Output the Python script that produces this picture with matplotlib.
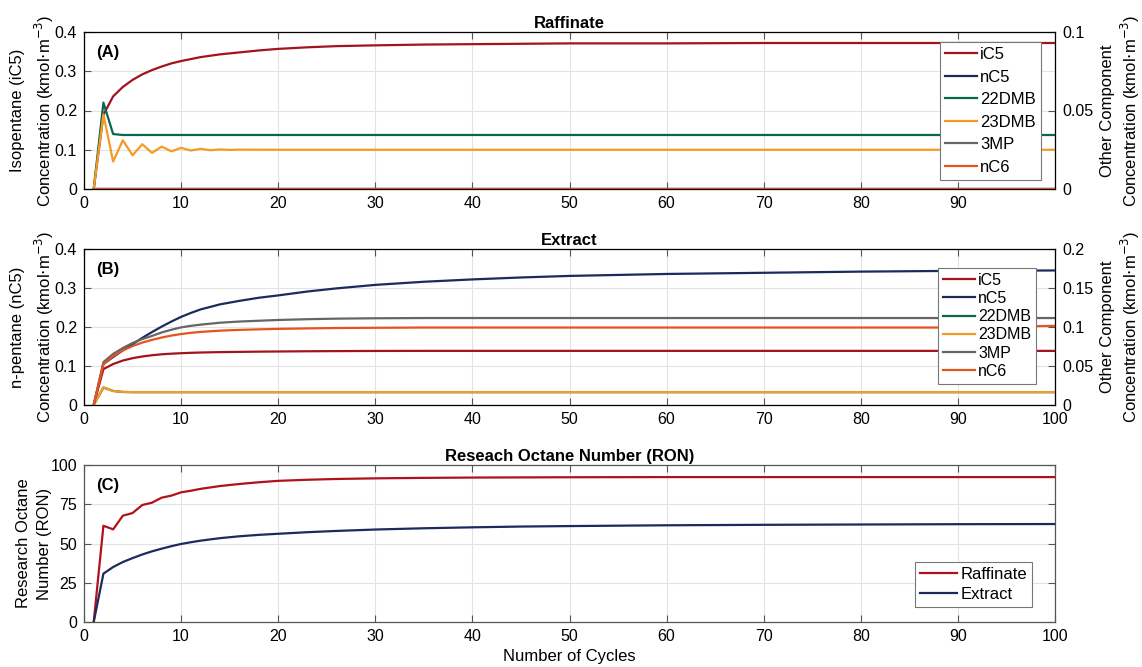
import numpy as np
import matplotlib.pyplot as plt

plt.rcParams['font.family'] = ['Liberation Sans', 'DejaVu Sans']

cyc = [1, 2, 3, 4, 5, 6, 7, 8, 9, 10, 11, 12, 14, 16, 18, 20, 23, 26, 30,
       35, 40, 45, 50, 60, 70, 80, 90, 100]
# cycles for the oscillating 23DMB raffinate curve
cyc_osc = list(range(1, 17)) + [20, 30, 40, 50, 60, 70, 80, 90, 100]

# (A) Raffinate -- iC5 on left axis, the rest on right axis
raf_ic5 = [0, 0.189, 0.236, 0.260, 0.278, 0.292, 0.303, 0.312, 0.320, 0.326, 0.331, 0.336,
           0.343, 0.348, 0.353, 0.357, 0.361, 0.364, 0.366, 0.368, 0.369, 0.370, 0.371,
           0.371, 0.372, 0.372, 0.372, 0.372]
raf_nc5 = [0] * len(cyc)
raf_22dmb = [0, 0.055, 0.035] + [0.0344] * 25
raf_23dmb = [0, 0.0475, 0.0175, 0.031, 0.0215, 0.0285, 0.023, 0.027, 0.024, 0.0262,
             0.0245, 0.0256, 0.0247, 0.0252, 0.0249, 0.0251,
             0.025, 0.025, 0.025, 0.025, 0.025, 0.025, 0.025, 0.025, 0.025]
raf_3mp = [0] * len(cyc)
raf_nc6 = [0] * len(cyc)

# (B) Extract -- nC5 on left axis, the rest on right axis
ext_nc5 = [0, 0.105, 0.123, 0.140, 0.156, 0.172, 0.187, 0.201, 0.214, 0.226, 0.236, 0.245,
           0.258, 0.267, 0.275, 0.281, 0.291, 0.299, 0.308, 0.316, 0.322, 0.327, 0.331,
           0.336, 0.339, 0.342, 0.344, 0.345]
ext_ic5 = [0, 0.046, 0.0525, 0.057, 0.060, 0.0622, 0.0638, 0.065, 0.0658, 0.0664, 0.0669,
           0.0673, 0.0678, 0.0681, 0.0684, 0.0686, 0.0689, 0.0691, 0.0693, 0.0694, 0.0694,
           0.0694, 0.0694, 0.0694, 0.0694, 0.0694, 0.0694, 0.0694]
ext_23dmb = [0, 0.0224, 0.018, 0.0167] + [0.0165] * 24
ext_22dmb = [0, 0.0224, 0.018, 0.0167] + [0.0165] * 24
ext_3mp = [0, 0.055, 0.0655, 0.073, 0.0795, 0.0845, 0.0885, 0.093, 0.0965, 0.0995, 0.1015,
           0.103, 0.1055, 0.107, 0.108, 0.109, 0.110, 0.1107, 0.1112, 0.1115, 0.1115,
           0.1115, 0.1115, 0.1115, 0.1115, 0.1115, 0.1115, 0.1115]
ext_nc6 = [0, 0.0525, 0.0625, 0.070, 0.0755, 0.080, 0.0835, 0.0865, 0.089, 0.091, 0.0925,
           0.0937, 0.0953, 0.0963, 0.097, 0.0976, 0.0982, 0.0987, 0.099, 0.0993, 0.0993,
           0.0993, 0.0993, 0.0993, 0.0993, 0.0993, 0.0993, 0.1015]

# (C) RON
ron_raf = [0, 61.3, 59.0, 67.7, 69.4, 74.5, 76.0, 79.2, 80.5, 82.6, 83.6, 84.8,
           86.6, 87.9, 89.0, 89.9, 90.6, 91.1, 91.5, 91.8, 92.0, 92.1, 92.2,
           92.3, 92.3, 92.3, 92.3, 92.3]
ron_ext = [0, 30.8, 35.0, 38.2, 40.7, 43.0, 45.0, 46.7, 48.3, 49.7, 50.8, 51.8,
           53.4, 54.6, 55.5, 56.2, 57.2, 58.0, 58.9, 59.7, 60.3, 60.8, 61.1,
           61.6, 61.9, 62.1, 62.3, 62.4]

labels = ['iC5', 'nC5', '22DMB', '23DMB', '3MP', 'nC6']
colors = ['#a3131c', '#1c2a5c', '#0b6650', '#f59a23', '#666666', '#e5531e']

W, H = 1142, 667
fig = plt.figure(figsize=(W / 100, H / 100), dpi=100)


def box(left, top, right, bottom):
    return [left / W, 1 - bottom / H, (right - left) / W, (bottom - top) / H]


def style(ax, right_ticks=True):
    ax.set_xlim(0, 100)
    ax.grid(True, color='#e3e3e3', lw=0.8)
    ax.set_axisbelow(True)
    ax.tick_params(direction='in', length=5, top=True, right=right_ticks,
                   labelsize=11.5, color='#555555', pad=5)
    for s in ax.spines.values():
        s.set_color('#555555')
        s.set_linewidth(0.9)


def legend(ax, handles, names, anchor, loc, size, spacing, hlen):
    leg = ax.legend(handles, names, loc=loc, bbox_to_anchor=anchor, borderaxespad=0,
                    fontsize=size, handlelength=hlen, handletextpad=0.2,
                    labelspacing=spacing, borderpad=0.3, fancybox=False,
                    framealpha=1, edgecolor='#777777')
    leg.get_frame().set_linewidth(0.8)
    return leg


lw = 1.6
ylab = 'Concentration (kmol$\\cdot$m$^{-3}$)'
lab_kw = dict(fontsize=12, linespacing=1.45, labelpad=-1)
rlab_kw = dict(fontsize=12, labelpad=5)

# ---- panel A
axA = fig.add_axes(box(84, 32, 1055, 189))
style(axA, right_ticks=False)
axA.set_ylim(0, 0.4)
axA.set_yticks([0, 0.1, 0.2, 0.3, 0.4])
axA.set_yticklabels(['0', '0.1', '0.2', '0.3', '0.4'])
axA.set_xticks(np.arange(0, 100, 10))
axA2 = axA.twinx()
axA2.set_ylim(0, 0.1)
axA2.set_yticks([0, 0.05, 0.1])
axA2.set_yticklabels(['0', '0.05', '0.1'])
axA2.tick_params(direction='in', length=5, labelsize=11.5, color='#555555', pad=5)
h = [axA.plot(cyc, raf_ic5, color=colors[0], lw=lw)[0]]
h.append(axA2.plot(cyc, raf_nc5, color=colors[1], lw=lw)[0])
h.append(axA2.plot(cyc, raf_22dmb, color=colors[2], lw=lw)[0])
h.append(axA2.plot(cyc_osc, raf_23dmb, color=colors[3], lw=lw)[0])
h.append(axA2.plot(cyc, raf_3mp, color=colors[4], lw=lw)[0])
h.append(axA2.plot(cyc, raf_nc6, color=colors[5], lw=lw)[0])
axA.set_title('Raffinate', fontsize=12, fontweight='bold', pad=3)
axA.set_ylabel('Isopentane (iC5)\n' + ylab, **lab_kw)
axA2.set_ylabel('Other Component\n' + ylab, **rlab_kw)
axA.text(0.012, 0.87, '(A)', transform=axA.transAxes, fontsize=12,
         fontweight='bold', va='center')
legend(axA2, h, labels, (0.9856, 0.936), 'upper right', 12, 0.45, 1.9)

# ---- panel B
axB = fig.add_axes(box(84, 249, 1055, 405))
style(axB, right_ticks=False)
axB.set_ylim(0, 0.4)
axB.set_yticks([0, 0.1, 0.2, 0.3, 0.4])
axB.set_yticklabels(['0', '0.1', '0.2', '0.3', '0.4'])
axB.set_xticks(np.arange(0, 101, 10))
axB2 = axB.twinx()
axB2.set_ylim(0, 0.2)
axB2.set_yticks([0, 0.05, 0.1, 0.15, 0.2])
axB2.set_yticklabels(['0', '0.05', '0.1', '0.15', '0.2'])
axB2.tick_params(direction='in', length=5, labelsize=11.5, color='#555555', pad=5)
hb = [axB2.plot(cyc, ext_ic5, color=colors[0], lw=lw)[0]]
hb.append(axB.plot(cyc, ext_nc5, color=colors[1], lw=lw)[0])
hb.append(axB2.plot(cyc, ext_22dmb, color=colors[2], lw=lw)[0])
hb.append(axB2.plot(cyc, ext_23dmb, color=colors[3], lw=lw)[0])
hb.append(axB2.plot(cyc, ext_3mp, color=colors[4], lw=lw)[0])
hb.append(axB2.plot(cyc, ext_nc6, color=colors[5], lw=lw)[0])
axB.set_title('Extract', fontsize=12, fontweight='bold', pad=3)
axB.set_ylabel('n-pentane (nC5)\n' + ylab, **lab_kw)
axB2.set_ylabel('Other Component\n' + ylab, **rlab_kw)
axB.text(0.012, 0.87, '(B)', transform=axB.transAxes, fontsize=12,
         fontweight='bold', va='center')
legend(axB2, hb, labels, (0.9804, 0.878), 'upper right', 11.5, 0.2, 2.0)

# ---- panel C
axC = fig.add_axes(box(84, 465, 1055, 622))
style(axC)
axC.set_ylim(0, 100)
axC.set_yticks([0, 25, 50, 75, 100])
axC.set_xticks(np.arange(0, 101, 10))
hc = [axC.plot(cyc, ron_raf, color='#b0111b', lw=lw)[0],
      axC.plot(cyc, ron_ext, color='#1c2a5c', lw=lw)[0]]
axC.set_title('Reseach Octane Number (RON)', fontsize=12, fontweight='bold', pad=3)
axC.set_ylabel('Research Octane\nNumber (RON)', **lab_kw)
axC.set_xlabel('Number of Cycles', fontsize=12, labelpad=4)
axC.text(0.012, 0.87, '(C)', transform=axC.transAxes, fontsize=12,
         fontweight='bold', va='center')
legend(axC, hc, ['Raffinate', 'Extract'], (0.9763, 0.0955), 'lower right', 12, 0.3, 2.2)

fig.savefig('out.png', dpi=100)
